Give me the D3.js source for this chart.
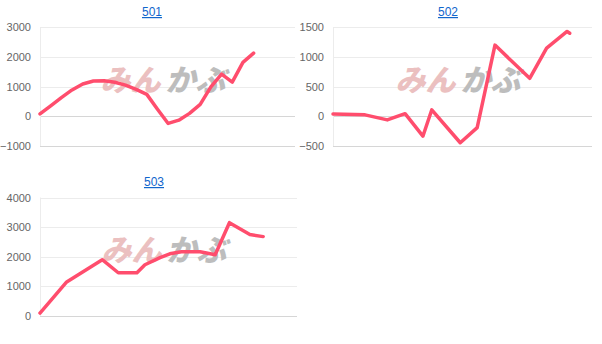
<!DOCTYPE html>
<html><head><meta charset="utf-8">
<script src="https://cdn.jsdelivr.net/npm/d3@7"></script>
<style>body{margin:0;background:#fff}svg{display:block}</style>
</head><body>
<svg id="c" width="602" height="344"></svg>
<script>
// ---- data ----
const titles = ["501", "502", "503"];
const days501 = [0, 1.2, 2.4, 3.6, 4.8, 6.0, 7.2, 8.4, 9.6, 10.8, 12.0, 13.2, 14.4, 15.6, 16.8, 18.0, 19.2, 20.4, 21.6, 22.8, 24.0];
const values501 = [80, 350, 630, 890, 1090, 1190, 1200, 1150, 1050, 910, 740, 240, -240, -130, 100, 400, 990, 1420, 1150, 1820, 2130];
const days502 = [0, 3.6, 6.1, 8.1, 10.1, 11.1, 14.3, 16.2, 18.2, 22.1, 24.0, 26.3, 26.6];
const values502 = [40, 25, -60, 45, -335, 110, -445, -190, 1200, 640, 1150, 1430, 1400];
const days503 = [0, 3.0, 7.0, 8.8, 10.9, 11.8, 13.5, 14.6, 15.9, 18.0, 19.7, 21.3, 23.6, 25.1];
const values503 = [100, 1150, 1900, 1460, 1460, 1730, 1970, 2100, 2170, 2170, 2070, 3150, 2750, 2680];
const ticks501 = [-1000, 0, 1000, 2000, 3000];
const ticks502 = [-500, 0, 500, 1000, 1500];
const ticks503 = [0, 1000, 2000, 3000, 4000];

// ---- layout ----
const panels = [
  {title: titles[0], cx: 152, ty: 16, left: 40, right: 295, top: 27.3, bottom: 146, xMax: 28.65, days: days501, values: values501, ticks: ticks501},
  {title: titles[1], cx: 448, ty: 16, left: 333, right: 592, top: 27.3, bottom: 146, xMax: 29.1, days: days502, values: values502, ticks: ticks502},
  {title: titles[2], cx: 154, ty: 186, left: 40, right: 297, top: 197.5, bottom: 316, xMax: 28.9, days: days503, values: values503, ticks: ticks503}
];

const svg = d3.select("#c");
const font = "'Liberation Sans', Arial, sans-serif";

panels.forEach(p => {
  const g = svg.append("g");
  const x = d3.scaleLinear().domain([0, p.xMax]).range([p.left, p.right]);
  const y = d3.scaleLinear().domain(d3.extent(p.ticks)).range([p.bottom, p.top]);

  // title
  g.append("text").attr("x", p.cx).attr("y", p.ty).attr("text-anchor", "middle")
    .attr("font-family", font).attr("font-size", 12).attr("fill", "#1166cc")
    .attr("text-decoration", "underline").text(p.title);

  // grid lines
  g.selectAll("line.grid").data(p.ticks).enter().append("line")
    .attr("x1", p.left).attr("x2", p.right)
    .attr("y1", d => Math.round(y(d)) + 0.5).attr("y2", d => Math.round(y(d)) + 0.5)
    .attr("stroke", (d, i) => (d === 0 || i === 0) ? "#d6d6d6" : "#ececec")
    .attr("stroke-width", 1);

  // vertical axis line
  g.append("line").attr("x1", p.left + 0.5).attr("x2", p.left + 0.5)
    .attr("y1", p.top).attr("y2", p.bottom).attr("stroke", "#ececec");

  // y axis labels
  const axis = d3.axisLeft(y).tickValues(p.ticks).tickSize(0).tickPadding(9).tickFormat(d3.format("d"));
  const ag = g.append("g").attr("transform", `translate(${p.left},0)`).call(axis);
  ag.select(".domain").remove();
  ag.selectAll("text").attr("font-family", font).attr("font-size", 11).attr("fill", "#666");

  // watermark
  const wmx = (p.left + p.right) / 2 - 5;
  const wmy = (p.top + p.bottom) / 2 + 4;
  const wm = g.append("g").attr("font-family", "'Noto Sans CJK JP', sans-serif")
    .attr("font-weight", 900).attr("font-style", "italic").attr("font-size", 30);
  wm.append("text").attr("x", wmx - 2).attr("y", wmy).attr("text-anchor", "end")
    .attr("fill", "#ebc0c0").text("みん");
  wm.append("text").attr("x", wmx + 3).attr("y", wmy).attr("text-anchor", "start")
    .attr("fill", "#bdbdbd").text("かぶ");

  // line
  const pts = p.days.map((d, i) => [d, p.values[i]]);
  const line = d3.line().x(d => x(d[0])).y(d => y(d[1]));
  g.append("path").datum(pts).attr("d", line)
    .attr("fill", "none").attr("stroke", "#ff4d6d").attr("stroke-width", 3.5)
    .attr("stroke-linejoin", "round").attr("stroke-linecap", "round");
});
</script>
</body></html>
